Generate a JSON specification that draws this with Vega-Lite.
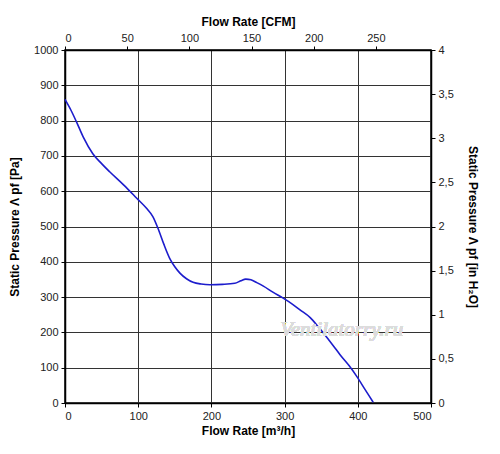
{
  "$schema": "https://vega.github.io/schema/vega-lite/v6.json",
  "width": 366,
  "height": 353,
  "autosize": "none",
  "padding": {"left": 65, "top": 50, "right": 69, "bottom": 51},
  "background": "white",
  "data": {
    "values": [
      {"flow": 0, "pressure": 860},
      {"flow": 8, "pressure": 830},
      {"flow": 16, "pressure": 795},
      {"flow": 25, "pressure": 753},
      {"flow": 38, "pressure": 706},
      {"flow": 50, "pressure": 678},
      {"flow": 61, "pressure": 655},
      {"flow": 80, "pressure": 618},
      {"flow": 98, "pressure": 580},
      {"flow": 112, "pressure": 550},
      {"flow": 120, "pressure": 528},
      {"flow": 127, "pressure": 495},
      {"flow": 135, "pressure": 450},
      {"flow": 143, "pressure": 410},
      {"flow": 150, "pressure": 386},
      {"flow": 157, "pressure": 368},
      {"flow": 166, "pressure": 352},
      {"flow": 175, "pressure": 342},
      {"flow": 186, "pressure": 337},
      {"flow": 198, "pressure": 335},
      {"flow": 215, "pressure": 336},
      {"flow": 232, "pressure": 339},
      {"flow": 240, "pressure": 346},
      {"flow": 247, "pressure": 351},
      {"flow": 254, "pressure": 349},
      {"flow": 262, "pressure": 341},
      {"flow": 271, "pressure": 331},
      {"flow": 284, "pressure": 314},
      {"flow": 298, "pressure": 297},
      {"flow": 310, "pressure": 281},
      {"flow": 321, "pressure": 264},
      {"flow": 335, "pressure": 242},
      {"flow": 346, "pressure": 216},
      {"flow": 357, "pressure": 188},
      {"flow": 367, "pressure": 161},
      {"flow": 376, "pressure": 136},
      {"flow": 388, "pressure": 106},
      {"flow": 399, "pressure": 74},
      {"flow": 410, "pressure": 38},
      {"flow": 421, "pressure": 2}
    ]
  },
  "layer": [
    {
      "encoding": {
        "x": {
          "field": "flow",
          "type": "quantitative",
          "scale": {"domain": [0, 500], "nice": false},
          "axis": {
            "orient": "bottom",
            "values": [0, 100, 200, 300, 400, 500],
            "title": "Flow Rate [m³/h]",
            "grid": true
          }
        },
        "y": {
          "field": "pressure",
          "type": "quantitative",
          "scale": {"domain": [0, 1000], "nice": false},
          "axis": {
            "orient": "left",
            "values": [0, 100, 200, 300, 400, 500, 600, 700, 800, 900, 1000],
            "format": "d",
            "title": "Static Pressure Λ pf [Pa]",
            "grid": true,
            "titlePadding": 12
          }
        }
      },
      "layer": [
        {
          "mark": {"type": "line", "color": "#1c1ccc", "strokeWidth": 1.6, "interpolate": "monotone"}
        },
        {
          "mark": {
            "type": "text",
            "text": "Ventilatorry.ru",
            "font": "Liberation Serif",
            "fontStyle": "italic",
            "fontSize": 21,
            "color": "#dcdcdc",
            "align": "center",
            "baseline": "middle"
          },
          "encoding": {
            "x": {"datum": 378, "type": "quantitative"},
            "y": {"datum": 208, "type": "quantitative"}
          }
        }
      ]
    },
    {
      "mark": {"type": "point", "opacity": 0},
      "encoding": {
        "x": {
          "datum": 0,
          "type": "quantitative",
          "scale": {"domain": [0, 294.3], "nice": false},
          "axis": {
            "orient": "top",
            "values": [0, 50, 100, 150, 200, 250],
            "title": "Flow Rate [CFM]",
            "grid": false
          }
        },
        "y": {
          "datum": 0,
          "type": "quantitative",
          "scale": {"domain": [0, 4], "nice": false},
          "axis": {
            "orient": "right",
            "values": [0, 0.5, 1, 1.5, 2, 2.5, 3, 3.5, 4],
            "labelExpr": "replace(format(datum.value, '~g'), '.', ',')",
            "title": "Static Pressure Λ pf [in H₂O]",
            "grid": false,
            "titlePadding": 12
          }
        }
      }
    }
  ],
  "resolve": {"scale": {"x": "independent", "y": "independent"}},
  "config": {
    "font": "Liberation Sans",
    "view": {"stroke": "black", "strokeWidth": 1.5},
    "axis": {
      "domainColor": "black",
      "domainWidth": 1.5,
      "tickColor": "black",
      "tickSize": 4,
      "gridColor": "#333333",
      "gridWidth": 1,
      "gridOpacity": 1,
      "labelFont": "Liberation Sans",
      "labelFontSize": 11,
      "labelColor": "#222222",
      "labelPadding": 3,
      "titleFont": "Liberation Sans",
      "titleFontSize": 12,
      "titleFontWeight": "bold",
      "titleColor": "black"
    }
  }
}
